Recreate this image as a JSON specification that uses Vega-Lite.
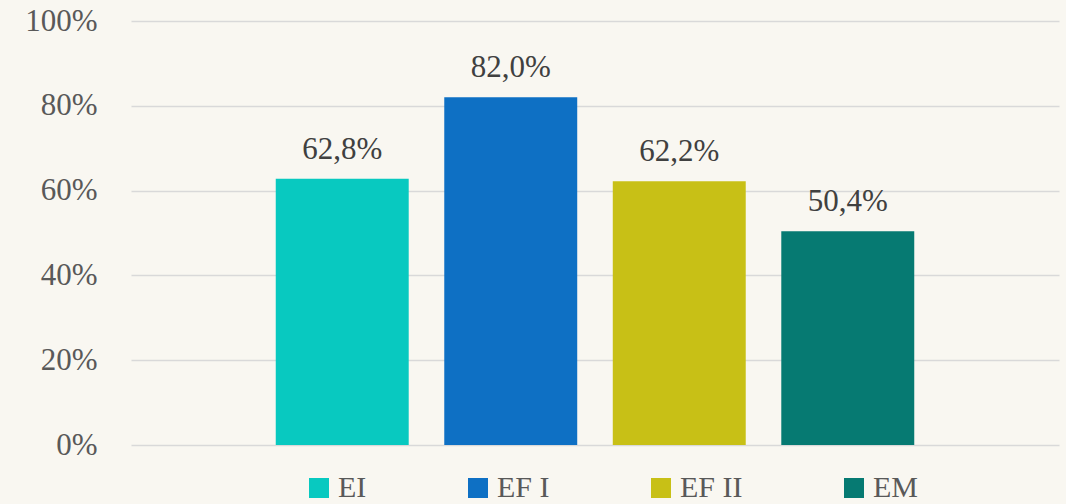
{
  "$schema": "https://vega.github.io/schema/vega-lite/v6.json",
  "width": 928,
  "height": 424,
  "autosize": {"type": "none"},
  "padding": {"left": 131, "top": 21, "right": 7, "bottom": 59},
  "background": "#f9f7f1",
  "config": {
    "view": {"stroke": null},
    "font": "Liberation Serif",
    "locale": {"number": {"decimal": ",", "thousands": ".", "grouping": [3], "currency": ["", " €"]}}
  },
  "data": {
    "values": [
      {"nivel": "EI", "valor": 0.628},
      {"nivel": "EF I", "valor": 0.82},
      {"nivel": "EF II", "valor": 0.622},
      {"nivel": "EM", "valor": 0.504}
    ]
  },
  "encoding": {
    "x": {
      "field": "nivel",
      "type": "nominal",
      "sort": null,
      "axis": null,
      "scale": {"paddingInner": 0.211, "paddingOuter": 0.859}
    },
    "y": {
      "field": "valor",
      "type": "quantitative",
      "scale": {"domain": [0, 1], "nice": false},
      "axis": {
        "values": [0, 0.2, 0.4, 0.6, 0.8, 1],
        "format": ".0%",
        "title": null,
        "labelFont": "Liberation Serif",
        "labelFontSize": 31,
        "labelColor": "#595959",
        "labelPadding": 34,
        "labelOverlap": false,
        "ticks": false,
        "domain": false,
        "gridColor": "#d9d9d9",
        "gridWidth": 1.5
      }
    }
  },
  "layer": [
    {
      "mark": {"type": "bar"},
      "encoding": {
        "color": {
          "field": "nivel",
          "type": "nominal",
          "sort": null,
          "scale": {"domain": ["EI", "EF I", "EF II", "EM"], "range": ["#08c9c0", "#0e70c4", "#c8c016", "#067a72"]},
          "legend": {
            "orient": "none",
            "legendX": 173,
            "legendY": 452,
            "direction": "horizontal",
            "title": null,
            "symbolType": "square",
            "symbolSize": 400,
            "symbolStrokeWidth": 0,
            "symbolOpacity": 1,
            "labelFont": "Liberation Serif",
            "labelFontSize": 30,
            "labelColor": "#595959",
            "labelOffset": 4,
            "columnPadding": 96
          }
        }
      }
    },
    {
      "mark": {"type": "text", "baseline": "alphabetic", "dy": -20, "fontSize": 31, "color": "#404040", "font": "Liberation Serif"},
      "encoding": {"text": {"field": "valor", "type": "quantitative", "format": ".1%"}}
    }
  ]
}
